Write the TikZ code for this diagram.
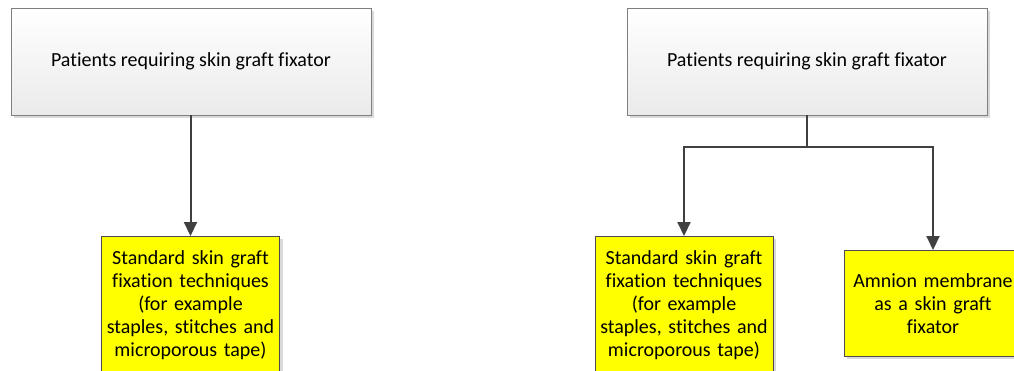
\documentclass[tikz,border=0pt]{standalone}
\usepackage{fontspec}
\setmainfont{Carlito}[Ligatures={NoCommon}]
\usepackage[dvipsnames]{xcolor}
\definecolor{linkgray}{HTML}{404040}
\definecolor{boxline}{HTML}{7F7F7F}
\definecolor{fixyellow}{HTML}{FFFF00}
\definecolor{shadowgray}{HTML}{D9D9D9}
\usetikzlibrary{shadows,arrows.meta}
\tikzset{
  patientbox/.style={rectangle,draw=boxline,line width=0.8pt,top color=white,bottom color=black!8,
    minimum width=360pt,minimum height=107pt,
    drop shadow={shadow xshift=3pt,shadow yshift=-3pt,fill=shadowgray,opacity=1},
    font=\fontsize{20}{23}\selectfont},
  methodbox/.style={rectangle,draw=black!70,line width=0.8pt,fill=fixyellow,
    minimum width=178pt,text width=172pt,inner sep=3pt,align=center,
    drop shadow={shadow xshift=3pt,shadow yshift=-3pt,fill=shadowgray,opacity=1},
    font=\fontsize{20}{23}\selectfont},
  link/.style={draw=linkgray,line width=2pt,-{Triangle[length=14pt,width=13pt]}}
}

\begin{document}
\begin{tikzpicture}[x=1pt,y=-1pt]
    \clip (0,0) rectangle (1014,370);
    \fill[white] (0,0) rectangle (1014,370);

    % left: standard care only
    \node[patientbox] (topleft) at (191,61.5) {Patients requiring skin graft fixator};
    \node[methodbox,anchor=north,minimum height=137pt] (stdleft) at (190.5,236) {Standard skin graft\\fixation techniques\\(for example\\staples, stitches and\\microporous tape)};
    \draw[link] (topleft.south -| stdleft.north) -- (stdleft.north);

    % right: standard care vs amnion
    \node[patientbox] (topright) at (807,61.5) {Patients requiring skin graft fixator};
    \node[methodbox,anchor=north,minimum height=137pt] (stdright) at (684,236) {Standard skin graft\\fixation techniques\\(for example\\staples, stitches and\\microporous tape)};
    \node[methodbox,anchor=north,minimum height=106pt] (amnion) at (933,250) {Amnion membrane\\as a skin graft\\fixator};
    \coordinate (split) at (807,147);
    \draw[draw=linkgray,line width=2pt] (topright.south) -- (split);
    \draw[link] (split) -| (stdright.north);
    \draw[link] (split) -| (amnion.north);
\end{tikzpicture}
\end{document}
